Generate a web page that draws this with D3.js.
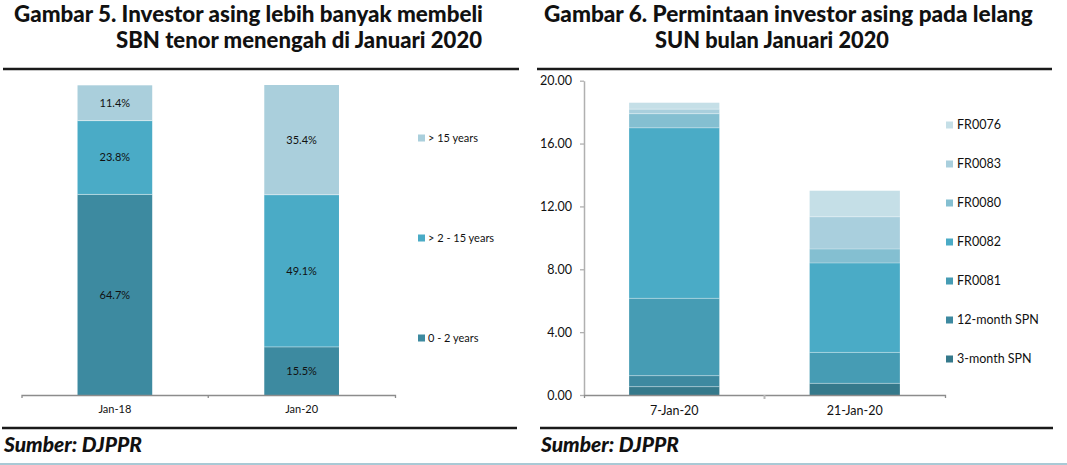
<!DOCTYPE html>
<html>
<head>
<meta charset="utf-8">
<script src="https://cdn.jsdelivr.net/npm/d3@7"></script>
<style>
  html, body { margin: 0; padding: 0; background: #fff; }
  svg { display: block; }
  text { font-family: Lato, "Open Sans", sans-serif; fill: #111; }
</style>
</head>
<body>
<svg id="chart" width="1067" height="465"></svg>
<script>
// ---------- data: left chart (share of foreign purchases by tenor, %) ----------
const leftCategories = ["Jan-18", "Jan-20"];
const leftSeriesNames = ["0 - 2 years", "> 2 - 15 years", "> 15 years"];
const tenor0to2 = [64.7, 15.5];
const tenor2to15 = [23.8, 49.1];
const tenorOver15 = [11.4, 35.4];
const leftColors = ["#3d8aa0", "#4aabc6", "#aacfdc"];

// ---------- data: right chart (foreign demand at SUN auctions, IDR tn) ----------
const rightCategories = ["7-Jan-20", "21-Jan-20"];
const rightSeriesNames = ["3-month SPN", "12-month SPN", "FR0081", "FR0082", "FR0080", "FR0083", "FR0076"];
const spn3m  = [0.53, 0.74];
const spn12m = [0.70, 0.00];
const fr0081 = [4.92, 1.97];
const fr0082 = [10.85, 5.69];
const fr0080 = [0.90, 0.89];
const fr0083 = [0.29, 2.05];
const fr0076 = [0.41, 1.66];
const rightColors = ["#35798b", "#3d89a0", "#469cb4", "#4aabc6", "#84bfd1", "#a9cfdd", "#c5dfe7"];
const rightTicks = [0, 4, 8, 12, 16, 20];

const titleLeft = ["Gambar 5. Investor asing lebih banyak membeli", "SBN tenor menengah di Januari 2020"];
const titleRight = ["Gambar 6. Permintaan investor asing pada lelang", "SUN bulan Januari 2020"];
const sourceText = "Sumber: DJPPR";

const svg = d3.select("#chart");
svg.append("rect").attr("width", 1067).attr("height", 465).attr("fill", "#fff");

// fit text to a target width by adjusting font size
function fitWidth(sel, target) {
  const node = sel.node();
  const w = node.getComputedTextLength();
  const fs = parseFloat(sel.attr("font-size"));
  sel.attr("font-size", (fs * target / w).toFixed(2));
}

// ---------- titles ----------
function title(lines, l1, l2) {
  const t1 = svg.append("text").attr("x", l1.x).attr("y", 22).attr("font-size", 20)
    .attr("font-weight", 900).attr("text-anchor", "start").text(lines[0]);
  fitWidth(t1, l1.w);
  const t2 = svg.append("text").attr("x", l2.x).attr("y", 48).attr("font-size", 20)
    .attr("font-weight", 900).attr("text-anchor", "start").text(lines[1]);
  fitWidth(t2, l2.w);
}
title(titleLeft, {x: 14, w: 469}, {x: 116, w: 366});
title(titleRight, {x: 544, w: 489}, {x: 655, w: 234});

// rules
const rule = (x1, x2, y, c, w) => svg.append("line").attr("x1", x1).attr("x2", x2)
  .attr("y1", y).attr("y2", y).attr("stroke", c).attr("stroke-width", w);
rule(3, 519, 69, "#1a1a1a", 2.5);
rule(537, 1052, 69, "#1a1a1a", 2.5);
rule(2, 517, 428, "#1a1a1a", 2.5);
rule(540, 1053, 428, "#1a1a1a", 2.5);
rule(0, 1067, 464, "#a9c9d5", 2);

// source notes
[{x: 4}, {x: 541}].forEach(p => {
  const s = svg.append("text").attr("x", p.x).attr("y", 452).attr("font-size", 16)
    .attr("font-weight", 900).attr("font-style", "italic").text(sourceText);
  fitWidth(s, 138);
});

// ---------- left chart ----------
{
  const g = svg.append("g");
  const x = d3.scaleBand().domain(leftCategories).range([21.5, 395]).paddingInner(0.6).paddingOuter(0.3);
  const y = d3.scaleLinear().domain([0, 100]).range([395, 85]);
  const rows = leftCategories.map((c, i) => ({cat: c, s0: tenor0to2[i], s1: tenor2to15[i], s2: tenorOver15[i]}));
  const stack = d3.stack().keys(["s0", "s1", "s2"])(rows);

  stack.forEach((layer, k) => {
    g.append("g").selectAll("rect").data(layer).join("rect")
      .attr("x", d => x(d.data.cat)).attr("width", x.bandwidth())
      .attr("y", d => y(d[1])).attr("height", d => y(d[0]) - y(d[1]))
      .attr("fill", leftColors[k]);
    g.append("g").selectAll("line").data(layer.filter(d => d[0] > 0)).join("line")
      .attr("x1", d => x(d.data.cat)).attr("x2", d => x(d.data.cat) + x.bandwidth())
      .attr("y1", d => y(d[0])).attr("y2", d => y(d[0]))
      .attr("stroke", "rgba(255,255,255,0.45)").attr("stroke-width", 1);
    g.append("g").selectAll("text").data(layer).join("text")
      .attr("x", d => x(d.data.cat) + x.bandwidth() / 2)
      .attr("y", d => (y(d[0]) + y(d[1])) / 2)
      .attr("dy", "0.35em").attr("text-anchor", "middle").attr("font-size", 11)
      .text(d => (d[1] - d[0]).toFixed(1) + "%");
  });

  const ax = g.append("g").attr("transform", "translate(0,395)")
    .call(d3.axisBottom(x).tickSizeInner(0).tickSizeOuter(3).tickPadding(10));
  ax.select(".domain").attr("stroke", "#8c8c8c").attr("stroke-width", 1.3);
  ax.selectAll("text").attr("font-size", 11).attr("fill", "#111").style("font-family", "Lato, sans-serif");
  const mid = (x(leftCategories[0]) + x(leftCategories[1]) + x.bandwidth()) / 2;
  g.append("line").attr("x1", mid).attr("x2", mid).attr("y1", 395).attr("y2", 398)
    .attr("stroke", "#8c8c8c").attr("stroke-width", 1.3);

  // legend (top to bottom reversed order)
  const leg = g.append("g").selectAll("g").data(leftSeriesNames.slice().reverse()).join("g")
    .attr("transform", (d, i) => `translate(418,${138 + i * 100})`);
  leg.append("rect").attr("x", 0).attr("y", -3.5).attr("width", 7).attr("height", 7)
    .attr("fill", (d, i) => leftColors[leftColors.length - 1 - i]);
  leg.append("text").attr("x", 10).attr("dy", "0.35em").attr("font-size", 11).text(d => d);
}

// ---------- right chart ----------
{
  const g = svg.append("g");
  const x = d3.scaleBand().domain(rightCategories).range([584, 945]).paddingInner(0.5).paddingOuter(0.25);
  const y = d3.scaleLinear().domain([0, 20]).range([395, 80.7]);
  const series = [spn3m, spn12m, fr0081, fr0082, fr0080, fr0083, fr0076];
  const keys = series.map((s, k) => "k" + k);
  const rows = rightCategories.map((c, i) => {
    const r = {cat: c};
    series.forEach((s, k) => r["k" + k] = s[i]);
    return r;
  });
  const stack = d3.stack().keys(keys)(rows);

  stack.forEach((layer, k) => {
    g.append("g").selectAll("rect").data(layer).join("rect")
      .attr("x", d => x(d.data.cat)).attr("width", x.bandwidth())
      .attr("y", d => y(d[1])).attr("height", d => y(d[0]) - y(d[1]))
      .attr("fill", rightColors[k]);
    g.append("g").selectAll("line").data(layer.filter(d => d[0] > 0 && d[1] > d[0])).join("line")
      .attr("x1", d => x(d.data.cat)).attr("x2", d => x(d.data.cat) + x.bandwidth())
      .attr("y1", d => y(d[0])).attr("y2", d => y(d[0]))
      .attr("stroke", "rgba(255,255,255,0.35)").attr("stroke-width", 1);
  });

  const ay = g.append("g").attr("transform", "translate(584,0)")
    .call(d3.axisLeft(y).tickValues(rightTicks).tickFormat(d3.format(".2f"))
      .tickSizeInner(4).tickSizeOuter(0).tickPadding(8));
  ay.select(".domain").attr("stroke", "#b0b0b0").attr("stroke-width", 1.5);
  ay.selectAll(".tick line").attr("stroke", "#b0b0b0").attr("stroke-width", 1.3);
  ay.selectAll("text").attr("font-size", 12.5).attr("fill", "#111").style("font-family", "Lato, sans-serif");

  const ax = g.append("g").attr("transform", "translate(0,395)")
    .call(d3.axisBottom(x).tickSizeInner(0).tickSizeOuter(3).tickPadding(11));
  ax.select(".domain").attr("stroke", "#8c8c8c").attr("stroke-width", 1.3);
  ax.selectAll("text").attr("font-size", 12.5).attr("fill", "#111").style("font-family", "Lato, sans-serif");
  const mid = (x(rightCategories[0]) + x(rightCategories[1]) + x.bandwidth()) / 2;
  g.append("line").attr("x1", mid).attr("x2", mid).attr("y1", 395).attr("y2", 399)
    .attr("stroke", "#b8b8b8").attr("stroke-width", 2);

  const leg = g.append("g").selectAll("g").data(rightSeriesNames.slice().reverse()).join("g")
    .attr("transform", (d, i) => `translate(946,${125 + i * 39})`);
  leg.append("rect").attr("x", 0).attr("y", -3.5).attr("width", 7).attr("height", 7)
    .attr("fill", (d, i) => rightColors[rightColors.length - 1 - i]);
  leg.append("text").attr("x", 11).attr("dy", "0.35em").attr("font-size", 12.5).text(d => d);
}
</script>
</body>
</html>
